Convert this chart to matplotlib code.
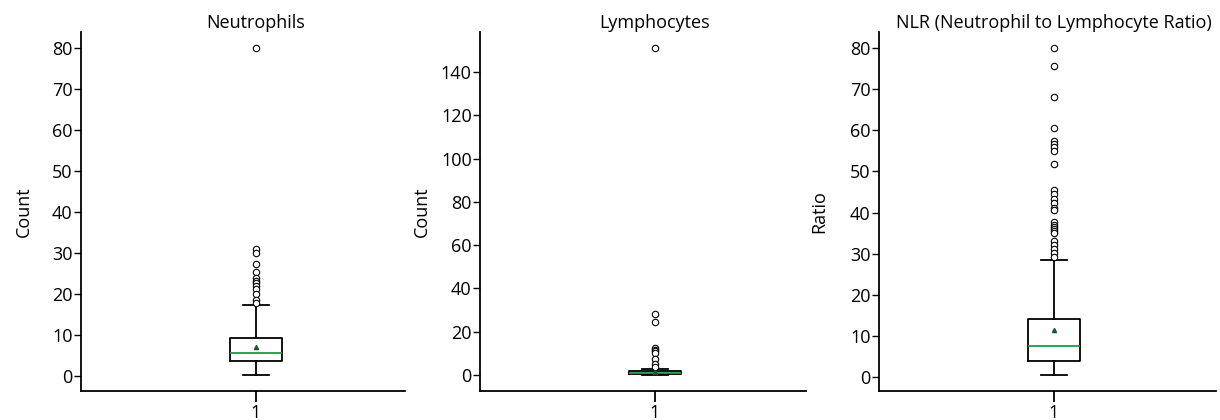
import matplotlib
matplotlib.use("Agg")
import matplotlib.pyplot as plt
import matplotlib.transforms as mtransforms

plt.rcParams['font.family'] = ['Open Sans', 'DejaVu Sans']

titles = ["Neutrophils", "Lymphocytes", "NLR (Neutrophil to Lymphocyte Ratio)"]
ylabels = ["Count", "Count", "Ratio"]
tick_label = "1"

# box statistics
whislo = [0.4, 0.1, 0.5]
q1 = [3.7, 0.6, 3.9]
med = [5.6, 1.0, 7.5]
mean = [7.2, 1.3, 11.3]
q3 = [9.3, 1.6, 14.0]
whishi = [17.3, 2.7, 28.4]

neut_fliers = [80.0, 31.0, 30.0, 27.5, 25.5, 24.0, 23.3, 22.8, 22.0, 21.3, 20.0, 18.7, 18.0]
lymph_fliers = [151.0, 28.0, 24.5, 12.5, 11.5, 11.0, 10.0, 7.5, 5.0, 3.5]
nlr_fliers = [80.0, 75.6, 68.2, 60.5, 57.5, 56.7, 55.9, 55.1, 51.8, 45.6, 44.4, 43.3,
              42.2, 41.2, 40.5, 37.6, 37.0, 36.4, 35.9, 35.4, 35.0, 33.1, 32.1, 31.1,
              30.1, 29.1]
fliers = [neut_fliers, lymph_fliers, nlr_fliers]

yticks = [[0, 10, 20, 30, 40, 50, 60, 70, 80],
          [0, 20, 40, 60, 80, 100, 120, 140],
          [0, 10, 20, 30, 40, 50, 60, 70, 80]]

W, H = 1220, 420
fig = plt.figure(figsize=(W / 100, H / 100), dpi=100)

# layout in pixels: left, right, box-center x
ax_px = [(81, 405, 256), (480, 806, 655), (879, 1216, 1054)]
top_px, bot_px = 32, 391
unit_px = 105.0  # pixels per x data unit
green = '#1a9a48'
fs = 13

for i in range(3):
    l, r, c = ax_px[i]
    ax = fig.add_axes([l / W, 1 - bot_px / H, (r - l) / W, (bot_px - top_px) / H])
    stats = [dict(whislo=whislo[i], q1=q1[i], med=med[i], mean=mean[i], q3=q3[i],
                  whishi=whishi[i], fliers=fliers[i], label=tick_label)]
    ax.bxp(stats, positions=[1], widths=0.5, showmeans=True,
           boxprops=dict(color='black', linewidth=1.3),
           whiskerprops=dict(color='black', linewidth=1.3),
           capprops=dict(color='black', linewidth=1.3),
           medianprops=dict(color=green, linewidth=1.3),
           meanprops=dict(marker='^', markerfacecolor='#1a5a2a', markeredgecolor='#1a5a2a',
                          markersize=3),
           flierprops=dict(marker='o', markerfacecolor='white', markeredgecolor='black',
                           markersize=4.6, markeredgewidth=0.8))
    ax.set_xlim(1 - (c - l) / unit_px, 1 + (r - c) / unit_px)
    data_all = fliers[i] + [whislo[i]]
    lo, hi = min(data_all), max(data_all)
    m = 0.05 * (hi - lo)
    ax.set_ylim(lo - m, hi + m)
    ax.set_yticks(yticks[i])
    for s in ['top', 'right']:
        ax.spines[s].set_visible(False)
    for s in ['left', 'bottom']:
        ax.spines[s].set_linewidth(1.3)
    ax.tick_params(axis='y', length=5, width=1.0, labelsize=fs, pad=1)
    ax.tick_params(axis='x', length=8, width=1.3, labelsize=fs, pad=1)
    ax.set_ylabel(ylabels[i], fontsize=fs)
    ax.yaxis.set_label_coords(-0.15, 0.5)
    trans = mtransforms.blended_transform_factory(ax.transData, ax.transAxes)
    ax.text(1, 1.0, titles[i], transform=trans, ha='center', va='bottom', fontsize=fs)

fig.savefig("out.png", dpi=100)
